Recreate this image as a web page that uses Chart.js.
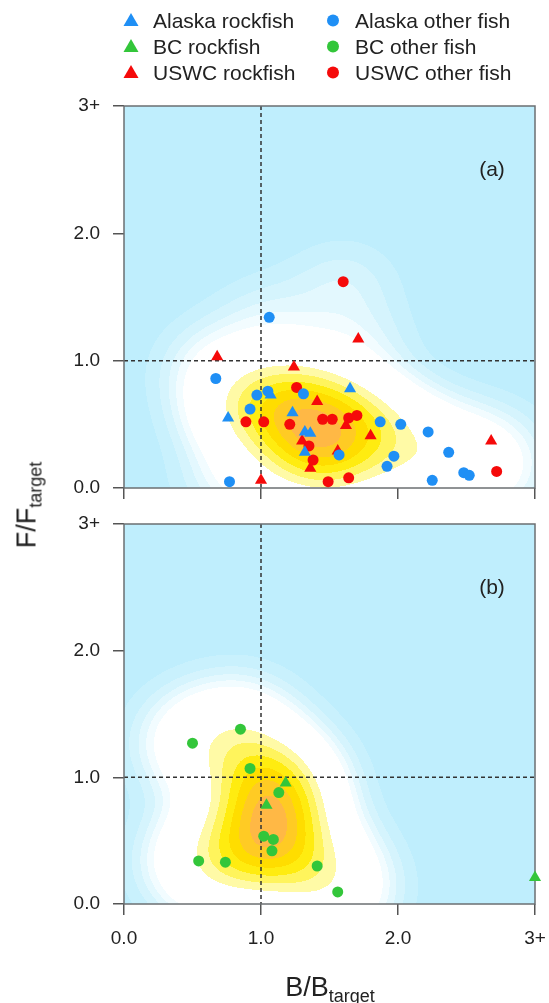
<!DOCTYPE html>
<html>
<head>
<meta charset="utf-8">
<script src="https://cdn.jsdelivr.net/npm/chart.js@4.4.1/dist/chart.umd.min.js"></script>
<style>
  body { margin: 0; background: #fff; font-family: "Liberation Sans", Arial, sans-serif; color: #222; }
  #wrap { position: relative; width: 549px; height: 1003px; overflow: hidden; }
  canvas { position: absolute; left: 0; }
  .item { position: absolute; font-size: 21px; line-height: 21px; white-space: nowrap; }
  .item svg { position: absolute; left: -30px; top: 2px; }
  .ytitle { position: absolute; left: 27px; top: 505px; transform: translate(-50%, -50%) rotate(-90deg); font-size: 27px; white-space: nowrap; }
  .xtitle { position: absolute; left: 330px; top: 987px; transform: translate(-50%, -50%); font-size: 27px; white-space: nowrap; }
  sub { font-size: 18px; vertical-align: -6px; line-height: 0; }
</style>
</head>
<body>
<div id="wrap">
  <canvas id="panelA" width="549" height="506" style="top:0"></canvas>
  <canvas id="panelB" width="549" height="497" style="top:506px"></canvas>
  <div id="legend"></div>
  <div class="ytitle">F/F<sub>target</sub></div>
  <div class="xtitle">B/B<sub>target</sub></div>
</div>
<script>
// tick labels (3+ means 3 or more)
const xTickLabels = ['0.0', '1.0', '2.0', '3+']
const yTickLabels = ['0.0', '1.0', '2.0', '3+']

// panel (a): Alaska and US west coast, [B/Btarget, F/Ftarget]
const alaskaRockfish = [[1.07, 0.73], [0.76, 0.55], [1.23, 0.59], [1.32, 0.44], [1.36, 0.43], [1.32, 0.28], [1.65, 0.78]]
const alaskaOther = [[1.06, 1.34], [0.67, 0.86], [1.31, 0.74], [0.97, 0.73], [1.05, 0.76], [0.92, 0.62], [0.77, 0.05],
    [1.87, 0.52], [2.02, 0.50], [2.22, 0.44], [1.57, 0.26], [2.37, 0.28], [1.97, 0.25], [1.92, 0.17],
    [2.48, 0.12], [2.52, 0.10], [2.25, 0.06]]
const uswcRockfish = [[0.68, 1.03], [1.24, 0.95], [1.71, 1.17], [1.41, 0.68], [1.30, 0.37], [1.36, 0.155], [1.56, 0.29],
    [1.00, 0.06], [1.62, 0.49], [1.80, 0.41], [2.68, 0.37]]
const uswcOther = [[1.60, 1.62], [1.26, 0.79], [0.89, 0.52], [1.02, 0.52], [1.45, 0.54], [1.52, 0.54], [1.21, 0.50],
    [1.35, 0.33], [1.38, 0.22], [1.49, 0.05], [1.64, 0.55], [1.70, 0.57], [1.64, 0.08], [2.72, 0.13]]

// panel (b): British Columbia
const bcRockfish = [[1.18, 0.955], [1.04, 0.78], [3.0, 0.21]]
const bcOther = [[0.85, 1.38], [0.50, 1.27], [0.92, 1.07], [1.13, 0.88], [1.02, 0.535], [1.09, 0.51], [1.08, 0.42],
    [0.545, 0.34], [0.74, 0.33], [1.41, 0.30], [1.56, 0.095]]

const refLine = 1.0

const BLUE = '#1f8ff5'
const GREEN = '#33c63a'
const RED = '#f50a0a'

// density colour bands (fraction of the maximum)
const bandBreaks = [0, 0.025, 0.05, 0.075, 0.1, 0.13, 0.42, 0.52, 0.62, 0.72, 0.82, 0.92]
const bandColors = ['#bfeefd', '#c9f1fd', '#d5f4fd', '#e3f8fe', '#f2fcff', '#ffffff',
    '#fffaa6', '#fff45c', '#ffec10', '#ffdd00', '#ffcb24', '#ffb845']

const toPts = arr => arr.map(p => ({ x: p[0], y: p[1] }))

const hexRgb = h => [parseInt(h.slice(1, 3), 16), parseInt(h.slice(3, 5), 16), parseInt(h.slice(5, 7), 16)]
const bandRgb = bandColors.map(hexRgb)

const density = {
    id: 'density',
    beforeDraw(chart, args, opts) {
        const { ctx, chartArea: a, scales: { x, y } } = chart
        // points drawn at the 3+ edge are off scale, leave them out
        const pts = opts.points.filter(p => p[0] < 3 && p[1] < 3)
        const left = Math.round(a.left), top = Math.round(a.top)
        const w = Math.round(a.right) - left, h = Math.round(a.bottom) - top
        const dens = new Float32Array(w * h)
        let max = 0
        for (let j = 0; j < h; j++) {
            const fy = y.getValueForPixel(top + j + 0.5)
            for (let i = 0; i < w; i++) {
                const bx = x.getValueForPixel(left + i + 0.5)
                let s = 0
                for (const p of pts) {
                    const dx = (bx - p[0]) / opts.bw[0]
                    const dy = (fy - p[1]) / opts.bw[1]
                    s += Math.exp(-0.5 * (dx * dx + dy * dy))
                }
                dens[j * w + i] = s
                if (s > max) max = s
            }
        }
        const img = ctx.createImageData(w, h)
        for (let k = 0; k < w * h; k++) {
            const d = dens[k] / max
            let b = 0
            while (b < bandBreaks.length - 1 && d >= bandBreaks[b + 1]) b++
            const c = bandRgb[b]
            img.data[k * 4] = c[0]
            img.data[k * 4 + 1] = c[1]
            img.data[k * 4 + 2] = c[2]
            img.data[k * 4 + 3] = 255
        }
        ctx.putImageData(img, left, top)
    },
    beforeDatasetsDraw(chart, args, opts) {
        const { ctx, chartArea: a, scales: { x, y } } = chart
        ctx.save()
        ctx.strokeStyle = '#333'
        ctx.lineWidth = 1.5
        ctx.setLineDash([4, 3])
        const px = x.getPixelForValue(refLine)
        const py = y.getPixelForValue(refLine)
        ctx.beginPath()
        ctx.moveTo(px, a.top); ctx.lineTo(px, a.bottom)
        ctx.moveTo(a.left, py); ctx.lineTo(a.right, py)
        ctx.stroke()
        ctx.setLineDash([])
        ctx.strokeStyle = '#6b6f72'
        ctx.lineWidth = 1.5
        ctx.strokeRect(a.left, a.top, a.right - a.left, a.bottom - a.top)
        ctx.fillStyle = '#222'
        ctx.font = '21px "Liberation Sans", Arial, sans-serif'
        ctx.textAlign = 'center'
        ctx.textBaseline = 'middle'
        ctx.fillText(opts.label, a.right - 43, a.top + 64)
        ctx.restore()
    }
}

function set(label, data, color, shape) {
    return {
        label,
        data: toPts(data),
        backgroundColor: color,
        borderColor: color,
        borderWidth: 0,
        pointStyle: shape,
        pointRadius: shape === 'triangle' ? 7 : 5.5,
        clip: false
    }
}

// no extra room for labels hanging over the ends of an axis
function noPad(s) {
    s.paddingLeft = 0
    s.paddingRight = 0
    s.paddingTop = 0
    s.paddingBottom = 0
}

function makeOptions(showXLabels, padBottom, xHeight, label, points, bw, padTop) {
    return {
        responsive: false,
        animation: false,
        events: [],
        layout: { autoPadding: false, padding: { top: padTop, right: 14, left: 0, bottom: padBottom } },
        plugins: {
            legend: { display: false },
            tooltip: { enabled: false },
            density: { points, bw, label }
        },
        scales: {
            x: {
                type: 'linear', min: 0, max: 3,
                afterFit: s => { s.height = xHeight; noPad(s) },
                border: { display: false },
                grid: { drawOnChartArea: false, drawTicks: true, tickLength: 11, color: '#555', lineWidth: 1.5 },
                ticks: {
                    display: showXLabels, stepSize: 1, padding: 12, color: '#222',
                    font: { family: '"Liberation Sans", Arial, sans-serif', size: 19 },
                    callback: (v, i) => xTickLabels[i]
                }
            },
            y: {
                type: 'linear', min: 0, max: 3,
                afterFit: s => { s.width = 124; noPad(s) },
                border: { display: false },
                grid: { drawOnChartArea: false, drawTicks: true, tickLength: 11, color: '#555', lineWidth: 1.5 },
                ticks: {
                    stepSize: 1, padding: 13, color: '#222',
                    font: { family: '"Liberation Sans", Arial, sans-serif', size: 19 },
                    callback: (v, i) => yTickLabels[i]
                }
            }
        }
    }
}

new Chart(document.getElementById('panelA'), {
    type: 'scatter',
    data: {
        datasets: [
            set('Alaska other fish', alaskaOther, BLUE, 'circle'),
            set('Alaska rockfish', alaskaRockfish, BLUE, 'triangle'),
            set('USWC other fish', uswcOther, RED, 'circle'),
            set('USWC rockfish', uswcRockfish, RED, 'triangle')
        ]
    },
    options: makeOptions(false, 6, 12, '(a)',
        alaskaRockfish.concat(alaskaOther, uswcRockfish, uswcOther), [0.28, 0.24], 106),
    plugins: [density]
})

new Chart(document.getElementById('panelB'), {
    type: 'scatter',
    data: {
        datasets: [
            set('BC other fish', bcOther, GREEN, 'circle'),
            set('BC rockfish', bcRockfish, GREEN, 'triangle')
        ]
    },
    options: makeOptions(true, 39, 60, '(b)', bcRockfish.concat(bcOther), [0.28, 0.28], 18),
    plugins: [density]
})

// legend, two columns
const legendItems = [
    ['Alaska rockfish', BLUE, 'triangle'], ['Alaska other fish', BLUE, 'circle'],
    ['BC rockfish', GREEN, 'triangle'], ['BC other fish', GREEN, 'circle'],
    ['USWC rockfish', RED, 'triangle'], ['USWC other fish', RED, 'circle']
]
const legend = document.getElementById('legend')
legendItems.forEach((it, n) => {
    const div = document.createElement('div')
    div.className = 'item'
    const col = n % 2, row = Math.floor(n / 2)
    div.style.left = (col ? 355 : 153) + 'px'
    div.style.top = (10 + row * 26) + 'px'
    const shape = it[2] === 'triangle'
        ? `<polygon points="8,1 15.5,14 0.5,14" fill="${it[1]}"/>`
        : `<circle cx="8" cy="8.5" r="6" fill="${it[1]}"/>`
    div.innerHTML = `<svg width="16" height="16">${shape}</svg>${it[0]}`
    legend.appendChild(div)
})
</script>
</body>
</html>
